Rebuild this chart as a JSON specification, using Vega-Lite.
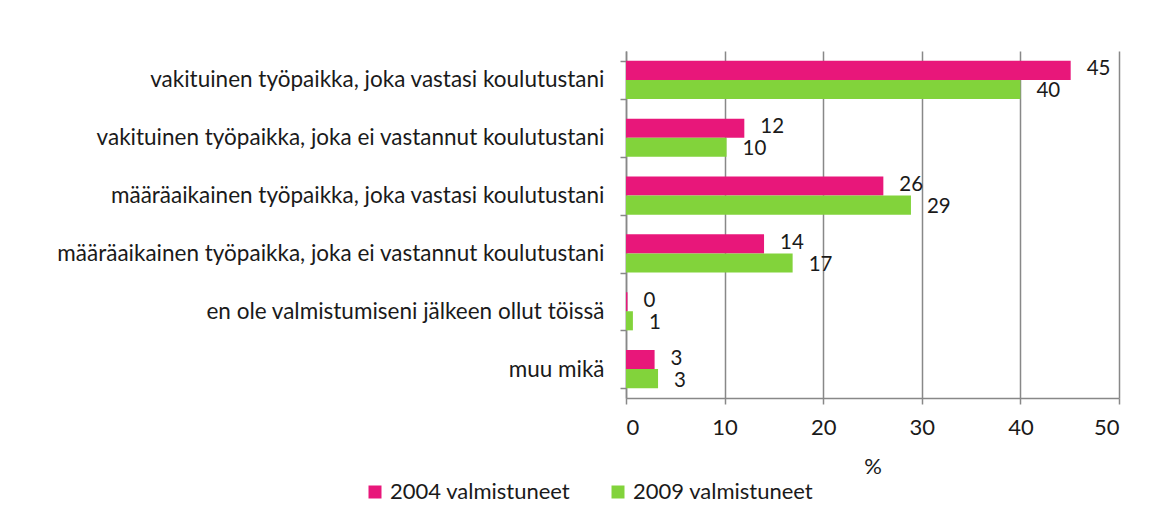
{
  "$schema": "https://vega.github.io/schema/vega-lite/v6.json",
  "width": 493,
  "height": 347,
  "autosize": {"type": "none"},
  "padding": {"left": 626, "top": 51, "right": 43, "bottom": 129},
  "background": "white",
  "config": {
    "font": "Lato",
    "view": {"stroke": null},
    "axis": {"labelFont": "Lato", "titleFont": "Lato", "labelColor": "#1a1a1a", "titleColor": "#1a1a1a"},
    "legend": {"labelFont": "Lato"}
  },
  "data": {
    "values": [
      {"cat": "vakituinen työpaikka, joka vastasi koulutustani", "series": "2004 valmistuneet", "value": 45.1},
      {"cat": "vakituinen työpaikka, joka vastasi koulutustani", "series": "2009 valmistuneet", "value": 40.0},
      {"cat": "vakituinen työpaikka, joka ei vastannut koulutustani", "series": "2004 valmistuneet", "value": 12.0},
      {"cat": "vakituinen työpaikka, joka ei vastannut koulutustani", "series": "2009 valmistuneet", "value": 10.2},
      {"cat": "määräaikainen työpaikka, joka vastasi koulutustani", "series": "2004 valmistuneet", "value": 26.1},
      {"cat": "määräaikainen työpaikka, joka vastasi koulutustani", "series": "2009 valmistuneet", "value": 28.9},
      {"cat": "määräaikainen työpaikka, joka ei vastannut koulutustani", "series": "2004 valmistuneet", "value": 14.0},
      {"cat": "määräaikainen työpaikka, joka ei vastannut koulutustani", "series": "2009 valmistuneet", "value": 16.9},
      {"cat": "en ole valmistumiseni jälkeen ollut töissä", "series": "2004 valmistuneet", "value": 0.15},
      {"cat": "en ole valmistumiseni jälkeen ollut töissä", "series": "2009 valmistuneet", "value": 0.7},
      {"cat": "muu mikä", "series": "2004 valmistuneet", "value": 2.9},
      {"cat": "muu mikä", "series": "2009 valmistuneet", "value": 3.25}
    ]
  },
  "encoding": {
    "y": {
      "field": "cat", "type": "nominal", "sort": null, "title": null,
      "scale": {"paddingInner": 0.34, "paddingOuter": 0.17},
      "axis": {"labelFontSize": 22.5, "labelLimit": 0, "labelPadding": 16, "tickBand": "extent", "tickSize": 6, "tickColor": "#888888", "tickWidth": 1.5, "domainColor": "#888888", "domainWidth": 1.5}
    },
    "yOffset": {"field": "series", "type": "nominal", "sort": null, "scale": {"paddingInner": 0, "paddingOuter": 0}},
    "x": {
      "field": "value", "type": "quantitative", "title": "%",
      "scale": {"domain": [0, 50], "nice": false},
      "axis": {"values": [0, 10, 20, 30, 40, 50], "labelFontSize": 22, "titleFontSize": 22, "titleFontWeight": "normal", "titlePadding": 18, "labelPadding": 13, "tickSize": 6, "tickColor": "#888888", "tickWidth": 1.5, "domainColor": "#888888", "domainWidth": 1.5, "grid": true, "gridColor": "#888888", "gridWidth": 1.5}
    }
  },
  "layer": [
    {
      "mark": {"type": "bar"},
      "encoding": {
        "color": {
          "field": "series", "type": "nominal", "sort": null, "title": null,
          "scale": {"domain": ["2004 valmistuneet", "2009 valmistuneet"], "range": ["#E8177A", "#82D33B"]},
          "legend": {"orient": "none", "legendX": -262, "legendY": 430, "direction": "horizontal", "symbolType": "square", "symbolSize": 169, "symbolStrokeWidth": 0, "labelFontSize": 22, "labelColor": "#1a1a1a", "columnPadding": 36, "labelOffset": 4, "labelLimit": 0}
        }
      }
    },
    {
      "transform": [{"filter": "datum.series === '2004 valmistuneet'"}],
      "mark": {"type": "text", "align": "left", "baseline": "middle", "dx": 16, "dy": -1, "fontSize": 20.5, "color": "#1a1a1a"},
      "encoding": {"text": {"field": "value", "type": "quantitative", "format": ".0f"}}
    },
    {
      "transform": [{"filter": "datum.series === '2009 valmistuneet'"}],
      "mark": {"type": "text", "align": "left", "baseline": "middle", "dx": 16, "dy": 2, "fontSize": 20.5, "color": "#1a1a1a"},
      "encoding": {"text": {"field": "value", "type": "quantitative", "format": ".0f"}}
    }
  ]
}
